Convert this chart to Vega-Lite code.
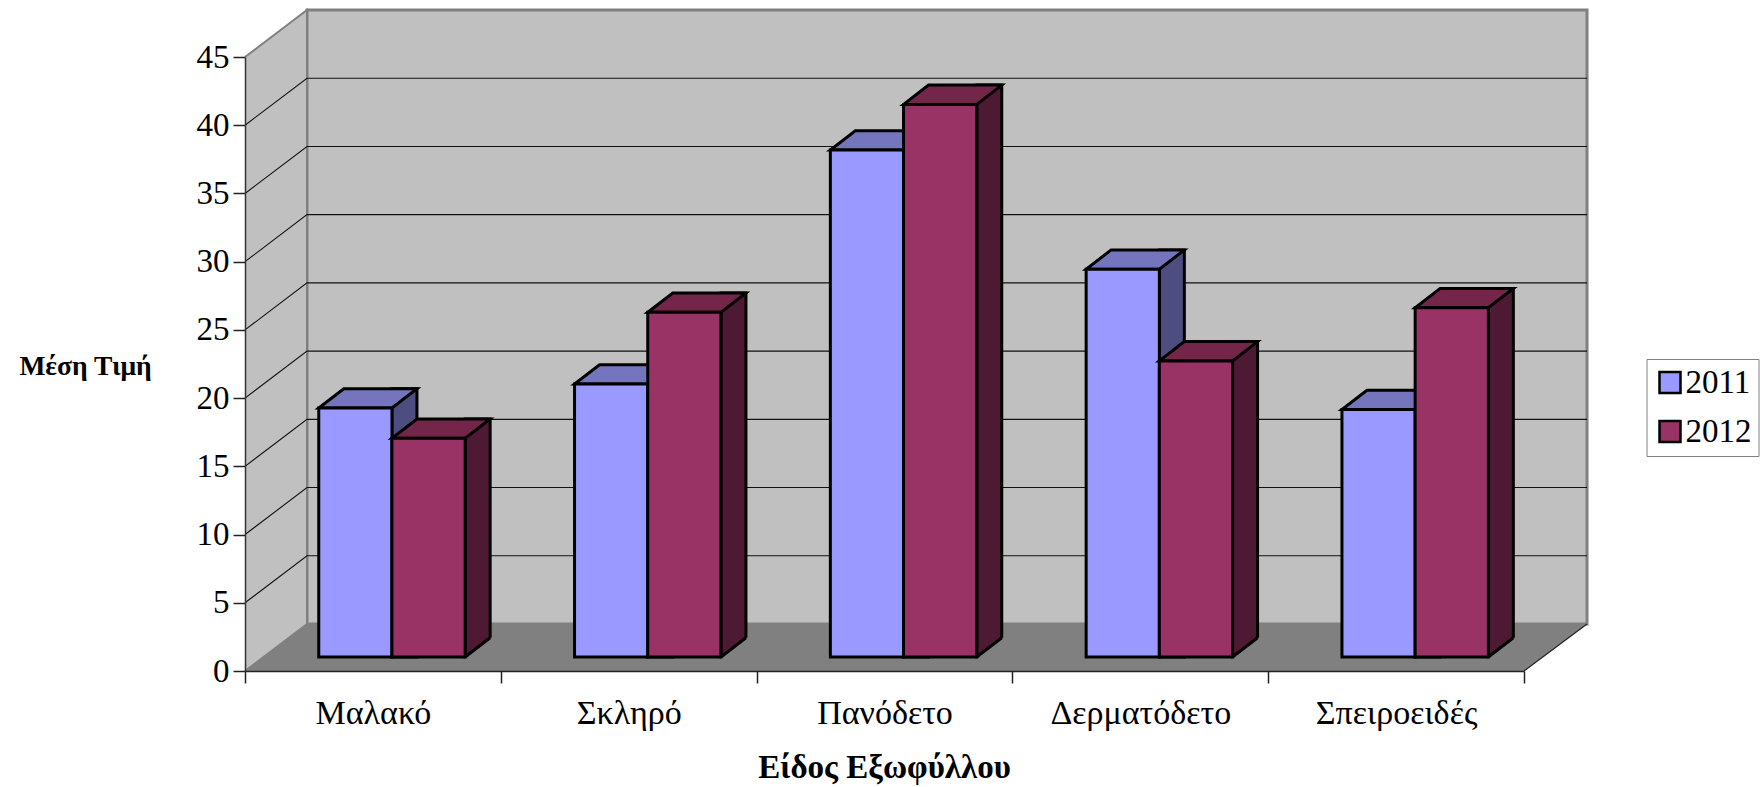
{
"$schema":"https://vega.github.io/schema/vega-lite/v6.json",
"width":1279,"height":614,
"autosize":"none",
"padding":{"left":245,"top":57,"right":236,"bottom":116},
"background":"white",
"config":{"view":{"stroke":null},"font":"Liberation Serif"},
"datasets":{
"bars":[
{"cover":"Μαλακό","series":"2011","value":18.25},
{"cover":"Μαλακό","series":"2012","value":16.03},
{"cover":"Σκληρό","series":"2011","value":20.0},
{"cover":"Σκληρό","series":"2012","value":25.26},
{"cover":"Πανόδετο","series":"2011","value":37.15},
{"cover":"Πανόδετο","series":"2012","value":40.5},
{"cover":"Δερματόδετο","series":"2011","value":28.42},
{"cover":"Δερματόδετο","series":"2012","value":21.7},
{"cover":"Σπειροειδές","series":"2011","value":18.14},
{"cover":"Σπειροειδές","series":"2012","value":25.6}],
"ticks":[{"cover":"Μαλακό","tick":0},{"cover":"Μαλακό","tick":5},{"cover":"Μαλακό","tick":10},{"cover":"Μαλακό","tick":15},{"cover":"Μαλακό","tick":20},{"cover":"Μαλακό","tick":25},{"cover":"Μαλακό","tick":30},{"cover":"Μαλακό","tick":35},{"cover":"Μαλακό","tick":40}]
},
"layer":[
{"data":{"name":"ticks"},"transform":[{"filter":"datum.tick==0"}],
 "encoding":{
  "x":{"field":"cover","type":"nominal","title":"Είδος Εξωφύλλου","scale":{"domain":["Μαλακό","Σκληρό","Πανόδετο","Δερματόδετο","Σπειροειδές"],"paddingInner":0,"paddingOuter":0},
   "axis":{"tickBand":"extent","labelAngle":0,"labelLimit":400,"labelFontSize":34,"labelColor":"black","labelPadding":13,"tickSize":12,"tickColor":"#222","tickWidth":1.5,"domainColor":"#222","domainWidth":1.5,"zindex":1,"grid":false,"titleFontSize":33,"titleFontWeight":"bold","titleColor":"black","titleX":639,"titleY":80,"labelFont":"Liberation Serif","titleFont":"Liberation Serif"}},
  "y":{"field":"tick","type":"quantitative","title":"Μέση Τιμή","scale":{"domain":[0,45],"nice":false},
   "axis":{"values":[0,5,10,15,20,25,30,35,40,45],"labelFontSize":33,"labelColor":"black","labelPadding":4,"tickSize":12,"tickColor":"#222","tickWidth":1.5,"domainColor":"#333","domainWidth":1.5,"zindex":1,"grid":false,"titleAngle":0,"titleAlign":"center","titleFontSize":27.5,"titleFontWeight":"bold","titleColor":"black","titleX":-160,"titleY":323,"labelFont":"Liberation Serif","titleFont":"Liberation Serif"}}},
 "layer":[
  {"mark":{"type":"point","filled":true,"opacity":1,"size":4,"xOffset":-127.9,"fill":"#C0C0C0","stroke":"#808080","strokeWidth":3,"shape":"M62,-47 L1342,-47 L1342,-661 L62,-661 Z"}},
  {"mark":{"type":"point","filled":true,"opacity":1,"size":4,"xOffset":-127.9,"fill":"#C0C0C0","stroke":"#808080","strokeWidth":2,"shape":"M0,0 L62,-47 L62,-661 L0,-614"}},
  {"mark":{"type":"point","filled":true,"opacity":1,"size":4,"xOffset":-127.9,"fill":"#808080","stroke":null,"shape":"M0,0 L1279,0 L1342,-47 L62,-47 Z"}},
  {"mark":{"type":"point","filled":false,"opacity":1,"size":4,"xOffset":-127.9,"stroke":"#222","strokeWidth":1.2,"shape":"M1279,0 L1342,-47"}}
 ]},
{"data":{"name":"ticks"},"transform":[{"filter":"datum.tick>0"}],
 "mark":{"type":"point","filled":false,"opacity":1,"size":4,"xOffset":-127.9,"stroke":"#111","strokeWidth":1.1,"shape":"M0,0 L62,-47 L1342,-47"},
 "encoding":{"x":{"field":"cover","type":"nominal"},"y":{"field":"tick","type":"quantitative"}}},
{"data":{"name":"bars"},
 "encoding":{"x":{"field":"cover","type":"nominal"}},
 "layer":[
  {"transform":[{"filter":"datum.series=='2011'"}],
   "layer":[
    {"mark":{"type":"rect","fill":"#4D4D80","stroke":"black","strokeWidth":3,"width":25,"xOffset":31.55,"yOffset":-33.3,"y2Offset":-14},"encoding":{"y":{"field":"value","type":"quantitative"},"y2":{"datum":0}}},
    {"mark":{"type":"point","filled":true,"opacity":1,"size":4,"xOffset":-17.55,"yOffset":-33.3,"fill":"#7575BD","stroke":"black","strokeWidth":3,"shape":"M-36.6,19.3 L36.6,19.3 L61.6,0 L-11.6,0 Z"},"encoding":{"y":{"field":"value","type":"quantitative"}}},
    {"mark":{"type":"rect","stroke":"black","strokeWidth":3,"width":73.2,"xOffset":-17.55,"yOffset":-14,"y2Offset":-14},"encoding":{"y":{"field":"value","type":"quantitative"},"y2":{"datum":0},
     "color":{"field":"series","type":"nominal","scale":{"domain":["2011","2012"],"range":["#9999FF","#993366"]},
      "legend":{"orient":"none","legendX":1401.5,"legendY":302,"title":null,"padding":7,"strokeColor":"#808080","fillColor":"white","symbolType":"square","symbolSize":441,"symbolStrokeColor":"black","symbolStrokeWidth":2.5,"symbolOpacity":1,"labelFontSize":33,"labelColor":"black","labelFont":"Liberation Serif","labelOffset":-1,"rowPadding":15}}}}
   ]},
  {"transform":[{"filter":"datum.series=='2012'"}],
   "layer":[
    {"mark":{"type":"rect","fill":"#4D1933","stroke":"black","strokeWidth":3,"width":25,"xOffset":104.75,"yOffset":-33.3,"y2Offset":-14},"encoding":{"y":{"field":"value","type":"quantitative"},"y2":{"datum":0}}},
    {"mark":{"type":"point","filled":true,"opacity":1,"size":4,"xOffset":55.65,"yOffset":-14,"fill":"#808080","stroke":null,"shape":"M36.6,0 L61.6,-19.3 L65,-19.3 L65,3 L36.6,3 Z"},"encoding":{"y":{"datum":0}}},
    {"mark":{"type":"point","filled":false,"opacity":1,"size":4,"xOffset":55.65,"yOffset":-14,"stroke":"black","strokeWidth":3,"shape":"M36.6,0 L61.6,-19.3"},"encoding":{"y":{"datum":0}}},
    {"mark":{"type":"point","filled":true,"opacity":1,"size":4,"xOffset":55.65,"yOffset":-33.3,"fill":"#732649","stroke":"black","strokeWidth":3,"shape":"M-36.6,19.3 L36.6,19.3 L61.6,0 L-11.6,0 Z"},"encoding":{"y":{"field":"value","type":"quantitative"}}},
    {"mark":{"type":"rect","stroke":"black","strokeWidth":3,"width":73.2,"xOffset":55.65,"yOffset":-14,"y2Offset":-14},"encoding":{"y":{"field":"value","type":"quantitative"},"y2":{"datum":0},
     "color":{"field":"series","type":"nominal"}}}
   ]}
 ]}
]
}
